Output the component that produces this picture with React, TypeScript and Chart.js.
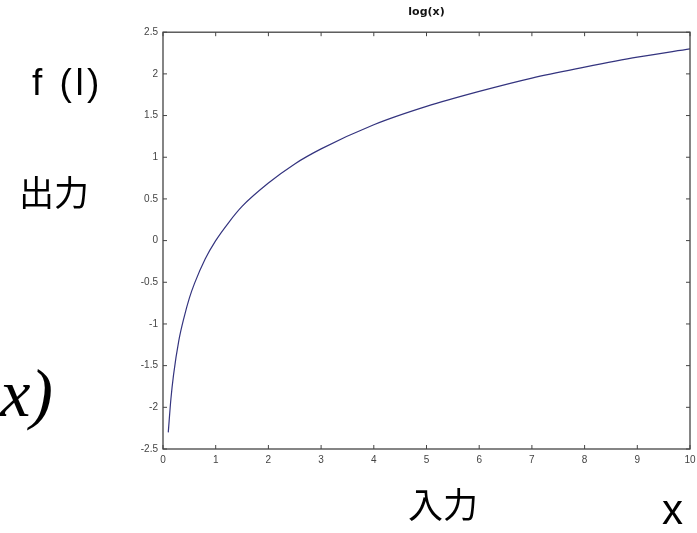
import React, { useEffect, useRef } from "react";
import { Chart, registerables } from "chart.js";

Chart.register(...registerables);

const xValues = [0.1, 0.15, 0.2, 0.3, 0.4, 0.5, 0.6, 0.8, 1, 1.25, 1.5, 2, 2.5, 3, 4, 5, 6, 7, 8, 9, 10];
const yValues = [-2.3, -1.9, -1.61, -1.2, -0.92, -0.69, -0.51, -0.22, 0, 0.22, 0.41, 0.69, 0.92, 1.1, 1.39, 1.61, 1.79, 1.95, 2.08, 2.2, 2.3];
const xTickValues = [0, 1, 2, 3, 4, 5, 6, 7, 8, 9, 10];
const yTickLabels = ["-2.5", "-2", "-1.5", "-1", "-0.5", "0", "0.5", "1", "1.5", "2", "2.5"];
const chartTitle = "log(x)";

const boxPlugin = {
  id: "boxTicks",
  afterDraw(chart: any) {
    const { ctx, chartArea, scales } = chart;
    const { left, right, top, bottom } = chartArea;
    ctx.save();
    ctx.strokeStyle = "#444";
    ctx.lineWidth = 1.3;
    ctx.strokeRect(left, top, right - left, bottom - top);
    const len = 4;
    ctx.lineWidth = 1;
    ctx.beginPath();
    scales.x.ticks.forEach((_t: any, i: number) => {
      const px = scales.x.getPixelForTick(i);
      ctx.moveTo(px, bottom);
      ctx.lineTo(px, bottom - len);
      ctx.moveTo(px, top);
      ctx.lineTo(px, top + len);
    });
    scales.y.ticks.forEach((_t: any, i: number) => {
      const py = scales.y.getPixelForTick(i);
      ctx.moveTo(left, py);
      ctx.lineTo(left + len, py);
      ctx.moveTo(right, py);
      ctx.lineTo(right - len, py);
    });
    ctx.stroke();
    ctx.restore();
  },
};

export default function App() {
  const ref = useRef<HTMLCanvasElement | null>(null);
  useEffect(() => {
    document.body.style.margin = "0";
    const chart = new Chart(ref.current as HTMLCanvasElement, {
      type: "scatter",
      data: {
        datasets: [
          {
            data: xValues.map((x, i) => ({ x, y: yValues[i] })),
            showLine: true,
            borderColor: "#34347f",
            borderWidth: 1.2,
            pointRadius: 0,
            cubicInterpolationMode: "monotone",
          } as any,
        ],
      },
      options: {
        animation: false,
        responsive: false,
        layout: { padding: { left: 0, right: 7, top: 0, bottom: 0 } },
        plugins: {
          legend: { display: false },
          tooltip: { enabled: false },
          title: {
            display: true,
            text: chartTitle,
            fullSize: false,
            color: "#111",
            font: { family: "'DejaVu Sans'", size: 11, weight: "bold" },
            padding: { top: 6, bottom: 13 },
          } as any,
        },
        scales: {
          x: {
            type: "linear",
            min: 0,
            max: 10,
            afterBuildTicks: (s: any) => {
              s.ticks = xTickValues.map((v) => ({ value: v }));
            },
            afterFit: (s: any) => {
              s.height = 84;
              s.paddingLeft = 0;
              s.paddingRight = 0;
            },
            grid: { display: false, drawTicks: false },
            border: { display: false },
            ticks: {
              color: "#444",
              font: { family: "'Liberation Sans'", size: 10 },
              padding: 5,
              maxRotation: 0,
            },
          },
          y: {
            type: "linear",
            min: -2.5,
            max: 2.5,
            afterBuildTicks: (s: any) => {
              s.ticks = yTickLabels.map((v) => ({ value: parseFloat(v) }));
            },
            afterFit: (s: any) => {
              s.width = 163;
              s.paddingTop = 0;
              s.paddingBottom = 0;
            },
            grid: { display: false, drawTicks: false },
            border: { display: false },
            ticks: {
              color: "#444",
              font: { family: "'Liberation Sans'", size: 10 },
              padding: 5,
              callback: (v: any) => {
                const idx = yTickLabels.findIndex((l) => parseFloat(l) === v);
                return idx >= 0 ? yTickLabels[idx] : "";
              },
            },
          },
        },
      },
      plugins: [boxPlugin],
    });
    return () => chart.destroy();
  }, []);

  const sans = "'Liberation Sans', 'Noto Sans CJK JP', sans-serif";
  const cjk = "'Noto Sans CJK JP', sans-serif";
  return (
    <div style={{ position: "relative", width: 697, height: 533, overflow: "hidden", background: "#fff" }}>
      <canvas ref={ref} width={697} height={533} style={{ position: "absolute", left: 0, top: 0 }} />
      <div style={{ position: "absolute", left: 32, top: 64, fontFamily: sans, fontSize: 37, letterSpacing: 3.5, lineHeight: 1, color: "#000", whiteSpace: "nowrap" }}>f (l)</div>
      <div style={{ position: "absolute", left: 19, top: 173, fontFamily: cjk, fontSize: 35, lineHeight: 1, color: "#000" }}>出力</div>
      <div style={{ position: "absolute", right: 697 - 53, top: 359, fontFamily: "'Liberation Serif', serif", fontStyle: "italic", fontSize: 68, lineHeight: 1, color: "#000", whiteSpace: "nowrap" }}>
        <span style={{ paddingRight: 8 }}>log(</span>
        <span>x)</span>
      </div>
      <div style={{ position: "absolute", left: 408, top: 485, fontFamily: cjk, fontSize: 35, lineHeight: 1, color: "#000" }}>入力</div>
      <div style={{ position: "absolute", left: 662, top: 489, fontFamily: sans, fontSize: 42, lineHeight: 1, color: "#000" }}>x</div>
    </div>
  );
}
